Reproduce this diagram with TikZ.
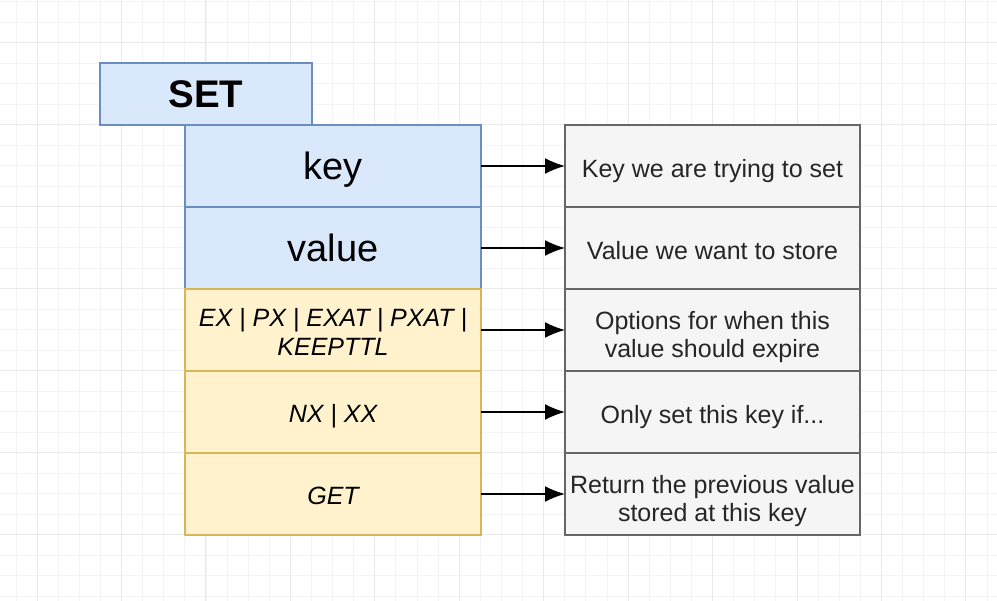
\documentclass[tikz,border=0pt]{standalone}
\usepackage{fontspec}
\setmainfont{Liberation Sans}
\usetikzlibrary{positioning, arrows.meta}

\definecolor{blueFill}{HTML}{DAE8FC}
\definecolor{blueLine}{HTML}{6C8EBF}
\definecolor{yellowFill}{HTML}{FFF2CC}
\definecolor{yellowLine}{HTML}{D6B656}
\definecolor{grayFill}{HTML}{F5F5F5}
\definecolor{grayLine}{HTML}{666666}
\definecolor{gridMinor}{HTML}{F4F4F4}
\definecolor{gridMajor}{HTML}{EAEAEA}

% extra room above the first line of a two-line label
\newcommand{\padtop}[1]{\rule{0pt}{#1}}

\tikzset{
  field/.style={draw, line width=1.6pt, minimum width=296pt, minimum height=82pt,
    inner sep=0pt, outer sep=0pt, align=center},
  argfield/.style={field, fill=blueFill, draw=blueLine, font=\fontsize{38}{42}\selectfont,
    text height=34pt, text depth=6pt},
  optfield/.style={field, fill=yellowFill, draw=yellowLine, font=\fontsize{25}{29}\selectfont\itshape,
    text height=27pt, text depth=5pt},
  note/.style={field, minimum width=295pt, fill=grayFill, draw=grayLine,
    text=black!85, font=\fontsize{25}{28}\selectfont, text height=28pt, text depth=5pt},
  twolines/.style={text height=, text depth=},
}

\begin{document}
\begin{tikzpicture}[x=1pt, y=-1pt, >={Latex[length=20pt,width=16pt]}]
    \useasboundingbox[fill=white] (0,0) rectangle (997,601);

    % background grid
    \begin{scope}
      \clip (0,0) rectangle (997,601);
      \foreach \k in {0,...,48} \draw[gridMinor, line width=0.8pt] (-5.2+21.11*\k,0) -- ++(0,601);
      \foreach \k in {0,...,30} \draw[gridMinor, line width=0.8pt] (0,1.7+20.5*\k) -- ++(997,0);
      \foreach \k in {0,...,11} \draw[gridMajor, line width=1pt] (37+84.45*\k,0) -- ++(0,601);
      \foreach \k in {0,...,7} \draw[gridMajor, line width=1pt] (0,42.7+82*\k) -- ++(997,0);
    \end{scope}

    \node[argfield, minimum width=212pt, minimum height=62pt,
      font=\fontsize{38.5}{42}\selectfont\bfseries] (set) at (206,94) {SET};

    \node[argfield] (key) at (333,166) {key};
    \node[argfield, below=0pt of key] (value) {value};
    \node[optfield, twolines, below=0pt of value] (expiry) {\padtop{23pt}EX | PX | EXAT | PXAT |\\KEEPTTL};
    \node[optfield, below=0pt of expiry] (cond) {NX | XX};
    \node[optfield, below=0pt of cond] (get) {GET};

    \node[note, right=84pt of key] (keynote) {Key we are trying to set};
    \node[note, below=0pt of keynote] (valuenote) {Value we want to store};
    \node[note, twolines, below=0pt of valuenote] (expirynote) {\padtop{32pt}Options for when this\\value should expire};
    \node[note, below=0pt of expirynote] (condnote) {Only set this key if...};
    \node[note, twolines, below=0pt of condnote] (getnote) {\padtop{32pt}Return the previous value\\stored at this key};

    \foreach \a/\b in {key/keynote, value/valuenote, expiry/expirynote, cond/condnote, get/getnote}
      \draw[->, line width=1.6pt] (\a) -- (\b);
\end{tikzpicture}
\end{document}
